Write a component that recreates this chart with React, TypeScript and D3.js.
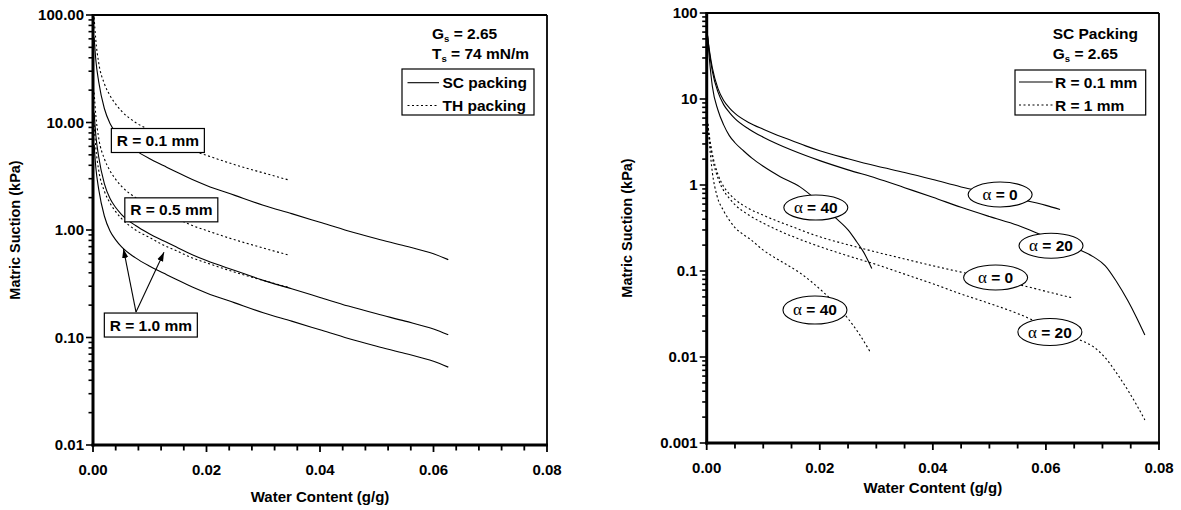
import React from 'react';
import * as d3 from 'd3';

type Pt = [number, number];

// ---------------- Left panel data (Matric suction vs water content) ----------------
const leftXTicks = [0, 0.02, 0.04, 0.06, 0.08];
const leftXTickLabels = ['0.00', '0.02', '0.04', '0.06', '0.08'];
const leftYTicks = [0.01, 0.1, 1, 10, 100];
const leftYTickLabels = ['0.01', '0.10', '1.00', '10.00', '100.00'];

const scW = [0.0002, 0.0005, 0.001, 0.002, 0.003, 0.004, 0.005, 0.0075, 0.01, 0.0125, 0.015, 0.0175, 0.02, 0.025, 0.03, 0.035, 0.04, 0.045, 0.05, 0.055, 0.06, 0.0626];
const scR01 = [62, 38, 24, 13.5, 9.8, 8.1, 7.0, 5.5, 4.6, 3.95, 3.4, 2.95, 2.6, 2.1, 1.7, 1.42, 1.18, 0.98, 0.83, 0.71, 0.6, 0.53];
const scR05 = [12.4, 7.6, 4.8, 2.7, 1.96, 1.62, 1.4, 1.1, 0.92, 0.79, 0.68, 0.59, 0.52, 0.42, 0.34, 0.284, 0.236, 0.196, 0.166, 0.142, 0.12, 0.106];
const scR10 = [6.2, 3.8, 2.4, 1.35, 0.98, 0.81, 0.7, 0.55, 0.46, 0.395, 0.34, 0.295, 0.26, 0.21, 0.17, 0.142, 0.118, 0.098, 0.083, 0.071, 0.06, 0.053];

const thW = [0.0002, 0.0005, 0.001, 0.002, 0.003, 0.004, 0.005, 0.0075, 0.01, 0.0125, 0.015, 0.0175, 0.02, 0.025, 0.03, 0.0347];
const thR01 = [95, 58, 36, 23, 17.8, 14.8, 12.8, 10, 8.5, 7.2, 6.3, 5.5, 4.95, 4.05, 3.4, 2.9];
const thR05 = [19, 11.6, 7.2, 4.6, 3.56, 2.96, 2.56, 2.0, 1.7, 1.44, 1.26, 1.1, 0.99, 0.81, 0.68, 0.58];
const thR10 = [9.5, 5.8, 3.6, 2.3, 1.78, 1.48, 1.28, 1.0, 0.85, 0.72, 0.63, 0.55, 0.495, 0.405, 0.34, 0.29];

// ---------------- Right panel data ----------------
const rightXTicks = [0, 0.02, 0.04, 0.06, 0.08];
const rightXTickLabels = ['0.00', '0.02', '0.04', '0.06', '0.08'];
const rightYTicks = [0.001, 0.01, 0.1, 1, 10, 100];
const rightYTickLabels = ['0.001', '0.01', '0.1', '1', '10', '100'];

const a0W01 = [0.0001, 0.0005, 0.001, 0.002, 0.003, 0.004, 0.005, 0.0075, 0.01, 0.0125, 0.015, 0.0175, 0.02, 0.025, 0.03, 0.035, 0.04, 0.045, 0.05, 0.055, 0.06, 0.0625];
const a0R01 = [58, 36, 23, 13.2, 9.6, 7.9, 6.8, 5.3, 4.45, 3.8, 3.3, 2.85, 2.5, 2.02, 1.66, 1.4, 1.16, 0.95, 0.81, 0.69, 0.58, 0.52];

const a20W = [0.0001, 0.0005, 0.001, 0.002, 0.003, 0.004, 0.005, 0.0075, 0.01, 0.0125, 0.015, 0.0175, 0.02, 0.025, 0.03, 0.035, 0.04, 0.045, 0.05, 0.055, 0.06, 0.063, 0.066, 0.0685, 0.0705, 0.0725, 0.0745, 0.076, 0.0775];
const a20R01 = [58, 34, 21, 12, 8.6, 7.0, 5.9, 4.45, 3.6, 3.0, 2.55, 2.2, 1.92, 1.5, 1.2, 0.93, 0.72, 0.55, 0.43, 0.34, 0.25, 0.21, 0.175, 0.145, 0.115, 0.075, 0.045, 0.029, 0.018];
const a20R1 = [5.8, 3.4, 2.1, 1.2, 0.86, 0.7, 0.59, 0.445, 0.36, 0.3, 0.255, 0.22, 0.192, 0.15, 0.119, 0.092, 0.071, 0.054, 0.042, 0.032, 0.023, 0.019, 0.0158, 0.013, 0.0098, 0.0065, 0.0041, 0.0028, 0.00185];

const a40W01 = [0.0001, 0.0005, 0.001, 0.002, 0.003, 0.004, 0.005, 0.0065, 0.008, 0.01, 0.013, 0.0165, 0.0193, 0.0227, 0.025, 0.0265, 0.0277, 0.0292];
const a40R01 = [58, 28, 14, 7.4, 5.0, 3.75, 3.1, 2.5, 2.05, 1.65, 1.25, 0.95, 0.68, 0.42, 0.3, 0.22, 0.168, 0.107];

const a0W1 = [0.0001, 0.0005, 0.001, 0.002, 0.003, 0.004, 0.005, 0.0075, 0.01, 0.0125, 0.015, 0.0175, 0.02, 0.025, 0.03, 0.035, 0.04, 0.045, 0.05, 0.055, 0.06, 0.0645];
const a0R1 = [5.8, 3.6, 2.3, 1.32, 0.96, 0.79, 0.68, 0.53, 0.445, 0.38, 0.33, 0.285, 0.25, 0.202, 0.166, 0.138, 0.115, 0.097, 0.082, 0.07, 0.058, 0.049];

const a40W1 = [0.0001, 0.0005, 0.001, 0.00177, 0.003, 0.004, 0.005, 0.0065, 0.00766, 0.01, 0.01355, 0.0165, 0.0206, 0.0227, 0.0248, 0.0271, 0.0289];
const a40R1 = [5.8, 2.9, 1.4, 0.77, 0.5, 0.39, 0.32, 0.265, 0.235, 0.175, 0.125, 0.095, 0.057, 0.042, 0.029, 0.018, 0.0115];

const zip = (xs: number[], ys: number[]): Pt[] => xs.map((x, i) => [x, ys[i]] as Pt);

const FONT = "'Liberation Sans', Arial, Helvetica, sans-serif";
const SERIF = "'Liberation Serif', 'Times New Roman', serif";
const DOT = '2,2.5';

interface Series { pts: Pt[]; dashed: boolean; }

function logMinor(lo: number, hi: number): number[] {
  const out: number[] = [];
  const a = Math.round(Math.log10(lo));
  const b = Math.round(Math.log10(hi));
  for (let d = a; d < b; d++) {
    for (let k = 1; k <= 9; k++) out.push(k * Math.pow(10, d));
  }
  out.push(hi);
  return out;
}

function Sub({ x, y, main, sub, rest, size = 15.5, anchor = 'start' }: any) {
  return (
    <text x={x} y={y} fontFamily={FONT} fontWeight="bold" fontSize={size} textAnchor={anchor}>
      {main}
      <tspan fontSize={size * 0.62} dy={3}>{sub}</tspan>
      <tspan dy={-3}>{rest}</tspan>
    </text>
  );
}

function Panel(props: {
  xr: [number, number]; yr: [number, number]; yDomain: [number, number];
  xTicks: number[]; xTickLabels: string[]; xMinorStep: number;
  yTicks: number[]; yTickLabels: string[];
  series: Series[]; xTitleY: number; yTitleX: number;
  children?: (x: any, y: any) => React.ReactNode;
}) {
  const { xr, yr, yDomain } = props;
  const x = d3.scaleLinear().domain([0, 0.08]).range(xr);
  const y = d3.scaleLog().domain(yDomain).range(yr);
  const line = d3.line<Pt>().x(d => x(d[0])).y(d => y(d[1])).curve(d3.curveMonotoneX);
  const xMinor = d3.range(0, 0.08 + 1e-9, props.xMinorStep);
  const yMinor = logMinor(yDomain[0], yDomain[1]);
  const left = xr[0], right = xr[1], top = yr[1], bottom = yr[0];
  return (
    <g>
      {props.series.map((s, i) => (
        <path key={i} d={line(s.pts) || ''} fill="none" stroke="#000" strokeWidth={1.1}
          strokeDasharray={s.dashed ? DOT : undefined} />
      ))}
      {props.children && props.children(x, y)}
      {/* frame */}
      <line x1={left} x2={right} y1={top} y2={top} stroke="#000" strokeWidth={1.8} />
      <line x1={right} x2={right} y1={top} y2={bottom} stroke="#000" strokeWidth={1.8} />
      <line x1={left} x2={left} y1={top - 1} y2={bottom + 1.5} stroke="#000" strokeWidth={3} />
      <line x1={left - 1.5} x2={right + 1} y1={bottom} y2={bottom} stroke="#000" strokeWidth={3} />
      {/* x ticks */}
      {xMinor.map((t, i) => {
        const major = props.xTicks.some(m => Math.abs(m - t) < 1e-9);
        return <line key={'xm' + i} x1={x(t)} x2={x(t)} y1={bottom} y2={bottom + (major ? 7 : 5.5)} stroke="#000" strokeWidth={1.8} />;
      })}
      {props.xTicks.map((t, i) => (
        <text key={'xl' + i} x={x(t)} y={bottom + 30} textAnchor="middle" fontFamily={FONT} fontWeight="bold" fontSize={15}>
          {props.xTickLabels[i]}
        </text>
      ))}
      {/* y ticks */}
      {yMinor.map((t, i) => {
        const major = props.yTicks.some(m => Math.abs(Math.log10(m) - Math.log10(t)) < 1e-6);
        return <line key={'ym' + i} x1={left} x2={left - (major ? 7 : 4.5)} y1={y(t)} y2={y(t)} stroke="#000" strokeWidth={1.6} />;
      })}
      {props.yTicks.map((t, i) => (
        <text key={'yl' + i} x={left - 9} y={y(t) + 5} textAnchor="end" fontFamily={FONT} fontWeight="bold" fontSize={15}>
          {props.yTickLabels[i]}
        </text>
      ))}
      <text x={(left + right) / 2} y={props.xTitleY} textAnchor="middle" fontFamily={FONT} fontWeight="bold" fontSize={15}>
        Water Content (g/g)
      </text>
      <text transform={`translate(${props.yTitleX},${(top + bottom) / 2}) rotate(-90)`} textAnchor="middle"
        fontFamily={FONT} fontWeight="bold" fontSize={14.5}>
        Matric Suction (kPa)
      </text>
    </g>
  );
}

function BoxLabel({ cx, cy, text }: { cx: number; cy: number; text: string }) {
  const w = 93, h = 24;
  return (
    <g>
      <rect x={cx - w / 2} y={cy - h / 2} width={w} height={h} fill="#fff" stroke="#000" strokeWidth={1.2} />
      <text x={cx} y={cy + 5.5} textAnchor="middle" fontFamily={FONT} fontWeight="bold" fontSize={15.5}>{text}</text>
    </g>
  );
}

function EllLabel({ cx, cy, val, ry = 12.5 }: { cx: number; cy: number; val: string; ry?: number }) {
  return (
    <g>
      <ellipse cx={cx} cy={cy} rx={32} ry={ry} fill="#fff" stroke="#000" strokeWidth={1.1} />
      <text x={cx} y={cy + 5.5} textAnchor="middle" fontSize={15.5}>
        <tspan fontFamily={SERIF} fontSize={17}>α</tspan>
        <tspan fontFamily={FONT} fontWeight="bold">{' = ' + val}</tspan>
      </text>
    </g>
  );
}

export default function App() {
  const leftSeries: Series[] = [
    { pts: zip(scW, scR01), dashed: false },
    { pts: zip(scW, scR05), dashed: false },
    { pts: zip(scW, scR10), dashed: false },
    { pts: zip(thW, thR01), dashed: true },
    { pts: zip(thW, thR05), dashed: true },
    { pts: zip(thW, thR10), dashed: true },
  ];
  const rightSeries: Series[] = [
    { pts: zip(a0W01, a0R01), dashed: false },
    { pts: zip(a20W, a20R01), dashed: false },
    { pts: zip(a40W01, a40R01), dashed: false },
    { pts: zip(a0W1, a0R1), dashed: true },
    { pts: zip(a20W, a20R1), dashed: true },
    { pts: zip(a40W1, a40R1), dashed: true },
  ];
  return (
    <svg width={1181} height={510} style={{ position: 'absolute', left: 0, top: 0, background: '#fff' }}>
      <defs>
        <marker id="arr" viewBox="0 0 10 10" refX={10} refY={5} markerWidth={9} markerHeight={9} orient="auto" markerUnits="userSpaceOnUse">
          <path d="M0,1.5 L10,5 L0,8.5 z" fill="#000" />
        </marker>
      </defs>
      <Panel xr={[93, 547]} yr={[445, 15]} yDomain={[0.01, 100]}
        xTicks={leftXTicks} xTickLabels={leftXTickLabels} xMinorStep={0.004}
        yTicks={leftYTicks} yTickLabels={leftYTickLabels}
        series={leftSeries} xTitleY={502} yTitleX={20}>
        {(x: any, y: any) => (
          <g>
            <BoxLabel cx={x(0.01143)} cy={y(6.8)} text="R = 0.1 mm" />
            <BoxLabel cx={x(0.0138)} cy={y(1.54)} text="R = 0.5 mm" />
            <line x1={x(0.00758)} y1={y(0.1726)} x2={x(0.00537)} y2={y(0.666)} stroke="#000" strokeWidth={1.1} markerEnd="url(#arr)" />
            <line x1={x(0.00758)} y1={y(0.1726)} x2={x(0.01251)} y2={y(0.62)} stroke="#000" strokeWidth={1.1} markerEnd="url(#arr)" />
            <BoxLabel cx={x(0.01019)} cy={y(0.1306)} text="R = 1.0 mm" />
          </g>
        )}
      </Panel>
      <Sub x={432} y={38.5} main="G" sub="s" rest=" = 2.65" />
      <Sub x={432} y={59} main="T" sub="s" rest=" = 74 mN/m" />
      <rect x={402} y={69} width={132} height={46} fill="#fff" stroke="#000" strokeWidth={1.2} />
      <line x1={407.5} x2={439} y1={82.7} y2={82.7} stroke="#000" strokeWidth={1.1} />
      <line x1={407.5} x2={439} y1={105.5} y2={105.5} stroke="#000" strokeWidth={1.1} strokeDasharray={DOT} />
      <text x={442.5} y={88.3} fontFamily={FONT} fontWeight="bold" fontSize={15.5}>SC packing</text>
      <text x={442.5} y={111.2} fontFamily={FONT} fontWeight="bold" fontSize={15.5}>TH packing</text>

      <Panel xr={[706.7, 1159]} yr={[443, 13]} yDomain={[0.001, 100]}
        xTicks={rightXTicks} xTickLabels={rightXTickLabels} xMinorStep={0.005}
        yTicks={rightYTicks} yTickLabels={rightYTickLabels}
        series={rightSeries} xTitleY={493} yTitleX={632}>
        {(x: any, y: any) => (
          <g>
            <EllLabel cx={x(0.0519)} cy={y(0.775)} val="0" />
            <EllLabel cx={x(0.0609)} cy={y(0.197)} val="20" />
            <EllLabel cx={x(0.0193)} cy={y(0.547)} val="40" />
            <EllLabel cx={x(0.0511)} cy={y(0.084)} val="0" />
            <EllLabel cx={x(0.0607)} cy={y(0.0195)} val="20" ry={13.5} />
            <EllLabel cx={x(0.01915)} cy={y(0.0352)} val="40" ry={14} />
          </g>
        )}
      </Panel>
      <text x={1052.7} y={38.5} fontFamily={FONT} fontWeight="bold" fontSize={15.5}>SC Packing</text>
      <Sub x={1052.7} y={58.5} main="G" sub="s" rest=" = 2.65" />
      <rect x={1015} y={70} width={130.7} height={45} fill="#fff" stroke="#000" strokeWidth={1.2} />
      <line x1={1019} x2={1052.7} y1={82} y2={82} stroke="#000" strokeWidth={1.1} />
      <line x1={1019} x2={1052.7} y1={105} y2={105} stroke="#000" strokeWidth={1.1} strokeDasharray={DOT} />
      <text x={1055} y={87.7} fontFamily={FONT} fontWeight="bold" fontSize={15.5}>R = 0.1 mm</text>
      <text x={1055} y={110.7} fontFamily={FONT} fontWeight="bold" fontSize={15.5}>R = 1 mm</text>
    </svg>
  );
}
